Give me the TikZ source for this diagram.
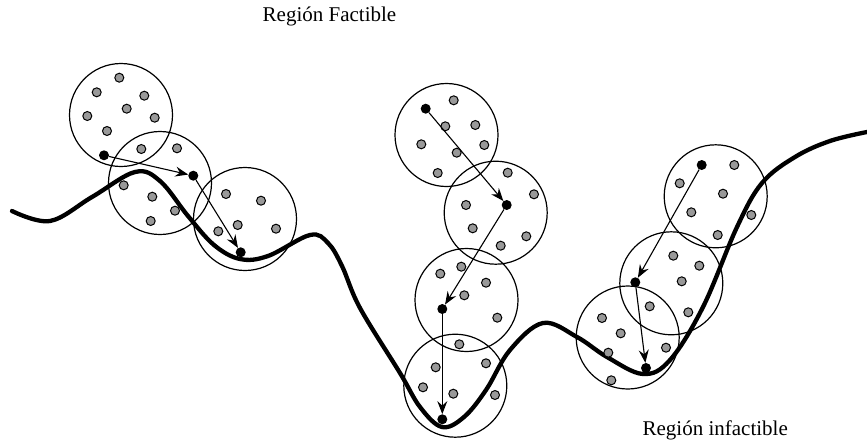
\documentclass[tikz,border=0pt]{standalone}
\usepackage{fontspec}
\setmainfont{Liberation Serif}
\usetikzlibrary{arrows.meta}
\begin{document}
\begin{tikzpicture}[x=1pt,y=-1pt,
  zone/.style={circle,draw,line width=1.2pt,minimum size=103pt,inner sep=0pt},
  sample/.style={circle,draw,line width=1pt,fill=black!40,minimum size=9pt,inner sep=0pt},
  best/.style={circle,fill=black,minimum size=10pt,inner sep=0pt},
  move/.style={line width=1.1pt,-{Stealth[length=13pt,width=10pt,inset=4.5pt]}},
  boundary/.style={line width=4.3pt,line cap=round},
  regiontext/.style={font=\fontsize{21}{25}\selectfont,inner sep=0pt}]
\useasboundingbox (0,0) rectangle (867,442);

% neighbourhoods
\foreach \x/\y [count=\i] in {121/115,160/183,245/219,446.5/135,495.7/212.7,
    466.5/300,455.3/385.7,715.7/196.3,671.3/283.3,627.7/337.5}
  \node[zone] (c\i) at (\x,\y) {};

% feasibility boundary
\draw[boundary] plot[smooth,tension=0.6] coordinates {
  (12,211) (50,221) (92,197) (135,172) (160,181) (188,216)
  (214,245) (240,259) (268,256) (310,235) (328,243) (342,266) (360,308)
  (400,373) (420,407) (442,427) (464,417) (486,390) (510,350) (543,323)
  (577,337) (607,357) (643,374) (670,360) (703,307) (737,227) (762,183)
  (795,157) (830,141) (867,132)};

% candidate solutions
\foreach \x/\y [count=\i] in {
  119.3/77.7,96.7/92.3,144.3/95.7,126.7/108.7,87.3/116,154.7/117.7,107/131,
  141.3/149,177/148.3,123.7/185.3,152.3/196.7,175/210.7,150.7/221,
  226/194,261/200.7,237.7/225,218.3/231.3,276/228.7,
  453.7/100.3,445.3/126.3,475.3/125,421.3/144.3,456.7/152.7,484.3/145,437.7/173,
  507.7/172.7,534/194.3,466/205,472.7/228.3,526.3/236.3,500.7/245.7,
  440.3/273.7,461.3/266.7,486/282.7,464.3/295.3,497.3/317.7,459.3/344.3,
  435.7/367.3,486/363.3,423/387.3,453.3/393.7,495/395,
  734.3/165,679.7/183.3,723/193.7,691.3/212.3,751.3/215,717.7/235,
  673.3/255.7,699.3/265.7,681.7/281.3,649.7/306.3,688.3/312.3,
  602/318,620.7/333.3,608.3/352.7,666/347.7,611.3/380.3}
  \node[sample] (s\i) at (\x,\y) {};

% best solution of each neighbourhood
\foreach \x/\y [count=\i] in {104/155.3,193.3/175.7,240.7/252.3,425.7/108.7,
    506.7/205,442.3/309,442.3/419.3,701.7/165,635.3/282.3,646/368}
  \node[best] (b\i) at (\x,\y) {};

% search moves
\draw[move] (b1) -- (b2);
\draw[move] (b2) -- (b3);
\draw[move] (b4) -- (b5);
\draw[move] (b5) -- (b6);
\draw[move] (b6) -- (b7);
\draw[move] (b8) -- (b9);
\draw[move] (b9) -- (b10);

% labels
\node[regiontext,anchor=base] (feas) at (329.5,21) {Región Factible};
\node[regiontext,anchor=base east] (infeas) at (788,435) {Región infactible};
\end{tikzpicture}
\end{document}
